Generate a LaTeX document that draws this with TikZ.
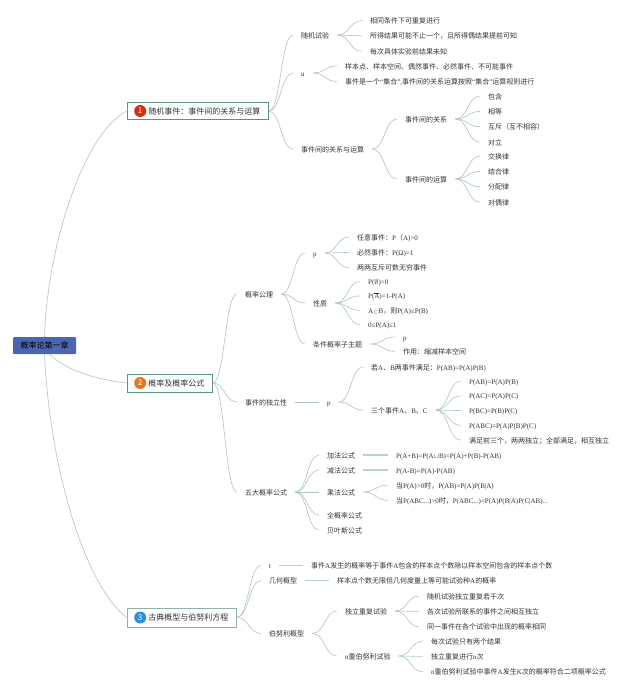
\documentclass[tikz,border=0pt]{standalone}
\usepackage{fontspec}
\setmainfont{Noto Sans CJK SC}
\newfontfamily\latinf{Liberation Serif}
\newcommand{\latn}[1]{{\latinf #1}}
\usepackage{tikz}
\usetikzlibrary{positioning, calc}
\definecolor{rootblue}{HTML}{4A66B0}
\definecolor{framegreen}{HTML}{5C9484}
\definecolor{linegreen}{HTML}{AEC4BC}
\definecolor{stemgreen}{HTML}{B4D4CC}
\definecolor{textgrey}{HTML}{333333}
\definecolor{badgered}{HTML}{DB2C0C}
\definecolor{badgeorange}{HTML}{E8751A}
\definecolor{badgeblue}{HTML}{2E8FE0}
\tikzstyle{rootbox} = [rectangle, fill=rootblue, rounded corners=1pt, minimum width=63pt, minimum height=17pt, inner sep=0pt, font=\fontsize{8}{9}\selectfont, text=black]
\tikzstyle{topic} = [rectangle, draw=framegreen, line width=0.7pt, fill=white, anchor=west, inner xsep=8pt, inner ysep=0pt, minimum height=18pt, font=\fontsize{8}{9}\selectfont, text=textgrey]
\tikzstyle{badge} = [circle, inner sep=0pt, minimum size=12pt, font=\fontsize{8}{9}\selectfont, text=white, anchor=west]
\tikzstyle{leaf} = [rectangle, anchor=west, inner xsep=8pt, inner ysep=0pt, text height=7pt, text depth=1pt, minimum height=15pt, font=\fontsize{7}{8}\selectfont, text=textgrey]
\tikzstyle{stem} = [draw=stemgreen, line width=1.2pt]
\tikzset{
  nextrow/.style={below right=0pt and 0pt of #1.south west},
  rowh/.style={minimum height=#1},
  branch/.style={draw=linegreen, line width=0.6pt, to path={.. controls ($(\tikztostart)!0.5!(\tikztotarget |- \tikztostart)$) and ($(\tikztotarget)!0.5!(\tikztostart |- \tikztotarget)$) .. (\tikztotarget) \tikztonodes}}
}

\begin{document}
\begin{tikzpicture}[x=1pt, y=-1pt]
        \useasboundingbox (0,0) rectangle (640,691);

        % Root and main topics
        \node (root) [rootbox] at (44.5,345.5) {概率论第一章};
        \node (top1) [topic, minimum height=17.5pt] at (126.5,111) {\hspace*{13.5pt}随机事件：事件间的关系与运算};
        \node (top2) [topic] at (126.5,383) {\hspace*{13.5pt}概率及概率公式};
        \node (top3) [topic, minimum height=19pt, draw=framegreen!70] at (126.5,617.5) {\hspace*{13.5pt}古典概型与伯努利方程};
        \node (bad1) [badge, fill=badgered, right=7.5pt of top1.west] {1};
        \node (bad2) [badge, fill=badgeorange, right=7.5pt of top2.west] {2};
        \node (bad3) [badge, fill=badgeblue, right=7.5pt of top3.west] {3};

        % Topic 1
        \node (shiyan) [leaf] at (293,35) {随机试验};
        \node (shiyan1) [leaf] at (362,20.5) {相同条件下可重复进行};
        \node (shiyan2) [leaf, nextrow=shiyan1] {所得结果可能不止一个，且所得偶结果提前可知};
        \node (shiyan3) [leaf, nextrow=shiyan2] {每次具体实验前结果未知};
        \node (uu) [leaf] at (293,73) {\latn{u}};
        \node (uu1) [leaf] at (337,66) {样本点、样本空间、偶然事件、必然事件、不可能事件};
        \node (uu2) [leaf, nextrow=uu1] {事件是一个\latn{“}集合\latn{”,}事件间的关系运算按照\latn{“}集合\latn{”}运算规则进行};
        \node (guanxi) [leaf] at (293,149) {事件间的关系与运算};
        \node (rel) [leaf] at (397,119) {事件间的关系};
        \node (rel1) [leaf] at (480,96) {包含};
        \node (rel2) [leaf, nextrow=rel1] {相等};
        \node (rel3) [leaf, nextrow=rel2] {互斥（互不相容）};
        \node (rel4) [leaf, nextrow=rel3] {对立};
        \node (ope) [leaf] at (397,179) {事件间的运算};
        \node (ope1) [leaf] at (480,156) {交换律};
        \node (ope2) [leaf, nextrow=ope1] {结合律};
        \node (ope3) [leaf, nextrow=ope2] {分配律};
        \node (ope4) [leaf, nextrow=ope3] {对偶律};

        % Topic 2
        \node (gongli) [leaf] at (237,294) {概率公理};
        \node (pp) [leaf] at (305,253) {\latn{p}};
        \node (pp1) [leaf] at (349,237) {任意事件：\latn{P}（\latn{A)>0}};
        \node (pp2) [leaf, nextrow=pp1] {必然事件：\latn{P(Ω)=1}};
        \node (pp3) [leaf, nextrow=pp2] {两两互斥可数无穷事件};
        \node (xingzhi) [leaf] at (305,303) {性质};
        \node (xz1) [leaf, rowh=14pt] at (360,281.5) {\latn{P($\emptyset$)=0}};
        \node (xz2) [leaf, rowh=14pt, nextrow=xz1] {\latn{P($\overline{\hbox{\latinf A}}$)=1-P(A)}};
        \node (xz3) [leaf, rowh=14pt, nextrow=xz2] {\latn{A{\fontsize{5.5}{6}\selectfont$\subset$}B}，则\latn{P(A)≤P(B)}};
        \node (xz4) [leaf, rowh=14pt, nextrow=xz3] {\latn{0≤P(A)≤1}};
        \node (tiaojian) [leaf] at (305,344) {条件概率子主题};
        \node (tj1) [leaf, rowh=14pt] at (395,337) {\latn{p}};
        \node (tj2) [leaf, rowh=14pt, nextrow=tj1] {作用：缩减样本空间};
        \node (duli) [leaf] at (237,402) {事件的独立性};
        \node (dp) [leaf] at (319,402) {\latn{p}};
        \node (dp1) [leaf] at (363,367) {若\latn{A}、\latn{B}两事件满足：\latn{P(AB)=P(A)P(B)}};
        \node (dp2) [leaf] at (363,410) {三个事件\latn{A}、\latn{B}、\latn{C}};
        \node (san1) [leaf, rowh=14.4pt] at (461,381) {\latn{P(AB)=P(A)P(B)}};
        \node (san2) [leaf, rowh=14.4pt, nextrow=san1] {\latn{P(AC)=P(A)P(C)}};
        \node (san3) [leaf, rowh=14.4pt, nextrow=san2] {\latn{P(BC)=P(B)P(C)}};
        \node (san4) [leaf, rowh=14.4pt, nextrow=san3] {\latn{P(ABC)=P(A)P(B)P(C)}};
        \node (san5) [leaf, rowh=14.4pt, nextrow=san4] {满足前三个，两两独立；全部满足，相互独立};
        \node (wuda) [leaf] at (237,492) {五大概率公式};
        \node (jia) [leaf] at (319,455) {加法公式};
        \node (jian) [leaf] at (319,470) {减法公式};
        \node (cheng) [leaf] at (319,492) {乘法公式};
        \node (quan) [leaf] at (319,515) {全概率公式};
        \node (beiye) [leaf] at (319,530) {贝叶斯公式};
        \node (jia1) [leaf] at (388,455) {\latn{P(A+B)=P(A$\cup$B)=P(A)+P(B)-P(AB)}};
        \node (jian1) [leaf] at (388,470) {\latn{P(A-B)=P(A)-P(AB)}};
        \node (cheng1) [leaf] at (388,485) {当\latn{P(A)>0}时，\latn{P(AB)=P(A)P(B|A)}};
        \node (cheng2) [leaf, nextrow=cheng1] {当\latn{P(ABC...)>0}时，\latn{P(ABC...)=P(A)P(B|A)P(C|AB)...}};

        % Topic 3
        \node (gudian) [leaf] at (261,565.5) {\latn{t}};
        \node (gudian1) [leaf] at (303,565.5) {事件\latn{A}发生的概率等于事件\latn{A}包含的样本点个数除以样本空间包含的样本点个数};
        \node (jihe) [leaf] at (261,580.5) {几何概型};
        \node (jihe1) [leaf] at (329,580.5) {样本点个数无限但几何度量上等可能试验种\latn{A}的概率};
        \node (bernu) [leaf] at (261,633.5) {伯努利概型};
        \node (cf) [leaf] at (337,611) {独立重复试验};
        \node (cf1) [leaf] at (419,596) {随机试验独立重复若干次};
        \node (cf2) [leaf, nextrow=cf1] {各次试验所联系的事件之间相互独立};
        \node (cf3) [leaf, nextrow=cf2] {同一事件在各个试验中出现的概率相同};
        \node (nb) [leaf] at (337,656) {\latn{n}重伯努利试验};
        \node (nb1) [leaf] at (423,641) {每次试验只有两个结果};
        \node (nb2) [leaf, nextrow=nb1] {独立重复进行\latn{n}次};
        \node (nb3) [leaf, nextrow=nb2] {\latn{n}重伯努利试验中事件\latn{A}发生\latn{K}次的概率符合二项概率公式};

        % Connectors - Root
        \draw [branch] (root.north) .. controls (47,250) and (82,135) .. (top1.west);
        \draw [branch] ([xshift=5pt]root.south) .. controls (68,372) and (100,380) .. (top2.west);
        \draw [branch] (root.south) .. controls (50,470) and (85,585) .. (top3.west);

        % Connectors - Topic 1
        \foreach \kid in {shiyan, uu, guanxi} \draw [branch] (top1.east) to (\kid.west);
        \foreach \kid in {shiyan1, shiyan2, shiyan3} \draw [branch] (shiyan.east) to (\kid.west);
        \foreach \kid in {uu1, uu2} \draw [branch] (uu.east) to (\kid.west);
        \foreach \kid in {rel, ope} \draw [branch] (guanxi.east) to (\kid.west);
        \foreach \kid in {rel1, rel2, rel3, rel4} \draw [branch] (rel.east) to (\kid.west);
        \foreach \kid in {ope1, ope2, ope3, ope4} \draw [branch] (ope.east) to (\kid.west);

        % Connectors - Topic 2
        \foreach \kid in {gongli, duli, wuda} \draw [branch] (top2.east) to (\kid.west);
        \foreach \kid in {pp, xingzhi, tiaojian} \draw [branch] (gongli.east) to (\kid.west);
        \foreach \kid in {pp1, pp2, pp3} \draw [branch] (pp.east) to (\kid.west);
        \foreach \kid in {xz1, xz2, xz3, xz4} \draw [branch] (xingzhi.east) to (\kid.west);
        \foreach \kid in {tj1, tj2} \draw [branch] (tiaojian.east) to (\kid.west);
        \draw [branch] (duli.east) to (dp.west);
        \foreach \kid in {dp1, dp2} \draw [branch] (dp.east) to (\kid.west);
        \foreach \kid in {san1, san2, san3, san4, san5} \draw [branch] (dp2.east) to (\kid.west);
        \foreach \kid in {jia, jian, cheng, quan, beiye} \draw [branch] (wuda.east) to (\kid.west);
        \draw [stem] (jia.east) -- (jia1.west);
        \draw [stem] (jian.east) -- (jian1.west);
        \foreach \kid in {cheng1, cheng2} \draw [branch] (cheng.east) to (\kid.west);

        % Connectors - Topic 3
        \foreach \kid in {gudian, jihe, bernu} \draw [branch] (top3.east) to (\kid.west);
        \draw [stem] (gudian.east) -- (gudian1.west);
        \draw [stem] (jihe.east) -- (jihe1.west);
        \foreach \kid in {cf, nb} \draw [branch] (bernu.east) to (\kid.west);
        \foreach \kid in {cf1, cf2, cf3} \draw [branch] (cf.east) to (\kid.west);
        \foreach \kid in {nb1, nb2, nb3} \draw [branch] (nb.east) to (\kid.west);

\end{tikzpicture}
\end{document}
